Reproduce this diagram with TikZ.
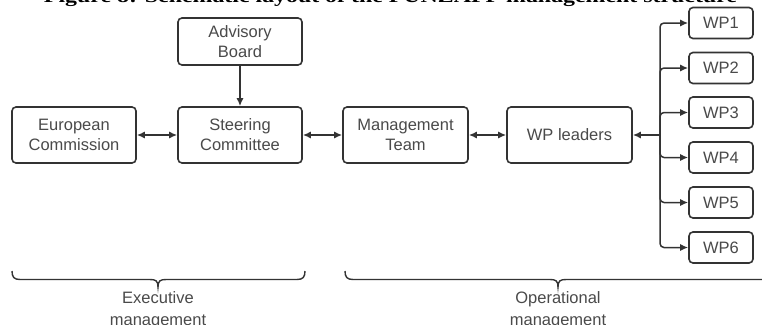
\documentclass[tikz,border=0pt]{standalone}
\usepackage{fontspec}
\setmainfont{Liberation Sans}
\newfontfamily\titlefont{Liberation Serif}
\usetikzlibrary{arrows.meta}
\definecolor{linegray}{HTML}{333333}
\definecolor{txtgray}{HTML}{4A4A4A}
\tikzset{
  box/.style={draw=linegray, line width=1.6pt, rounded corners=4pt, text=txtgray,
    align=center, inner sep=0pt, font=\fontsize{16.5}{20}\selectfont},
  bigbox/.style={box, minimum width=124pt, minimum height=56pt},
  wpbox/.style={box, minimum width=64pt, minimum height=31pt},
  link/.style={draw=linegray, line width=1.5pt},
  onearrow/.style={link, -{Latex[length=8pt,width=7pt]}},
  twoarrow/.style={link, {Latex[length=8pt,width=7pt]}-{Latex[length=8pt,width=7pt]}},
  brace/.style={draw=linegray, line width=1.4pt},
  bracelabel/.style={text=txtgray, align=center, font=\fontsize{16.5}{22}\selectfont}
}
\begin{document}
\begin{tikzpicture}[x=1pt, y=-1pt]
  \clip (0,0) rectangle (762,324);
  \fill[white] (0,0) rectangle (762,324);

  % caption line, cut by the top edge
  \node[anchor=base, inner sep=0pt] (title) at (390.5,3)
    {\resizebox{693pt}{13pt}{\titlefont\bfseries Figure 8: Schematic layout of the FUNZAPP management structure}};

  % executive side
  \node[box, minimum width=124pt, minimum height=47pt] (ab) at (240,41.5) {Advisory\\Board};
  \node[bigbox] (ec) at (74,135) {European\\Commission};
  \node[bigbox] (sc) at (240,135) {Steering\\Committee};

  % operational side
  \node[bigbox, minimum width=125pt] (mt) at (405.5,135) {Management\\Team};
  \node[bigbox, minimum width=125pt] (wpl) at (569.5,135) {WP leaders};

  \node[wpbox] (wp1) at (721,23) {WP1};
  \node[wpbox] (wp2) at (721,68) {WP2};
  \node[wpbox] (wp3) at (721,112.5) {WP3};
  \node[wpbox] (wp4) at (721,157.5) {WP4};
  \node[wpbox] (wp5) at (721,202.5) {WP5};
  \node[wpbox] (wp6) at (721,247.5) {WP6};

  % connectors
  \draw[onearrow] (ab) -- (sc);
  \draw[twoarrow] (ec) -- (sc);
  \draw[twoarrow] (sc) -- (mt);
  \draw[twoarrow] (mt) -- (wpl);

  \coordinate (trunk) at (660,135);
  \draw[onearrow] (trunk) -- (wpl.east);
  \foreach \w in {wp1,wp2,wp3,wp4,wp5,wp6}
    \draw[onearrow, rounded corners=4pt] (trunk) |- (\w.west);

  % braces
  \draw[brace] (12,271) .. controls (12,277) and (14,279.5) .. (20,279.5) -- (150,279.5)
    .. controls (156,279.5) and (158,281) .. (158,287)
    .. controls (158,281) and (160,279.5) .. (166,279.5) -- (297,279.5)
    .. controls (303,279.5) and (305,277) .. (305,271);
  \draw[brace] (345,271) .. controls (345,277) and (347,279.5) .. (353,279.5) -- (550,279.5)
    .. controls (556,279.5) and (558,281) .. (558,287)
    .. controls (558,281) and (560,279.5) .. (566,279.5) -- (770,279.5);

  \node[bracelabel] (exec) at (158,310) {Executive\\management};
  \node[bracelabel] (oper) at (558,310) {Operational\\management};
\end{tikzpicture}
\end{document}
